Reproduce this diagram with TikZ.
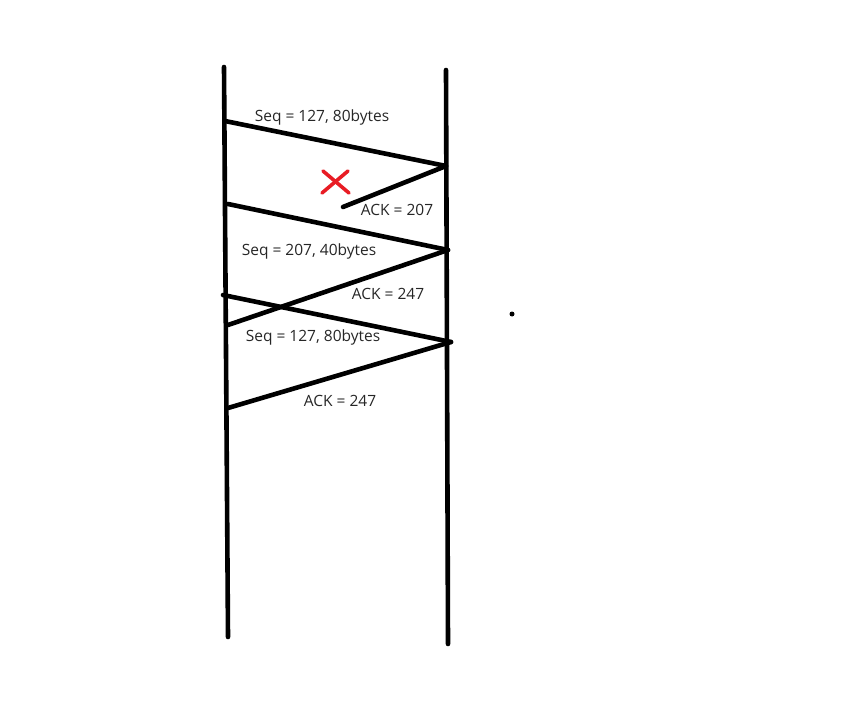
\documentclass[tikz,border=0pt]{standalone}
\usepackage{fontspec}
\setmainfont{Open Sans}
\definecolor{xred}{RGB}{232,28,36}
\begin{document}
\begin{tikzpicture}[x=1pt,y=-1pt,
  tl/.style={line width=4.6pt,line cap=round,black},
  msg/.style={line width=4.6pt,line cap=round,black},
  lbl/.style={font=\fontsize{15.5}{18}\selectfont,text=black!85,inner sep=0pt},
  cross/.style={line width=3.6pt,line cap=round,xred}]
\useasboundingbox (0,0) rectangle (867,711);
% timelines
\coordinate (LT) at (224,67);
\coordinate (LB) at (228,637);
\coordinate (RT) at (446,70);
\coordinate (RB) at (448,644);
\draw[tl] (LT) -- (LB);
\draw[tl] (RT) -- (RB);
% message points
\coordinate (a1) at (225,121);
\coordinate (b1) at (446,166);
\coordinate (c1) at (343,207);
\coordinate (a2) at (228,204);
\coordinate (b2) at (448,250);
\coordinate (c2) at (228,325);
\coordinate (a3) at (223,295);
\coordinate (b3) at (451,342);
\coordinate (c3) at (228,408);
\draw[msg] (a1) -- (b1);
\draw[msg] (b1) -- (c1);
\draw[msg] (a2) -- (b2);
\draw[msg] (b2) -- (c2);
\draw[msg] (a3) -- (b3);
\draw[msg] (b3) -- (c3);
% labels
\node[lbl] (l1) at (322,117) {Seq = 127, 80bytes};
\node[lbl] (l2) at (397,210) {ACK = 207};
\node[lbl] (l3) at (309,251) {Seq = 207, 40bytes};
\node[lbl] (l4) at (388,294) {ACK = 247};
\node[lbl] (l5) at (313,337) {Seq = 127, 80bytes};
\node[lbl] (l6) at (340,401) {ACK = 247};
% lost marker
\coordinate (x1) at (323,171);
\coordinate (x2) at (349,193);
\coordinate (x3) at (348,171);
\coordinate (x4) at (322,193);
\draw[cross] (x1) -- (x2);
\draw[cross] (x3) -- (x4);
% dot
\node[circle,fill=black,inner sep=0pt,minimum size=5pt] (dot) at (512,314) {};
\end{tikzpicture}
\end{document}
